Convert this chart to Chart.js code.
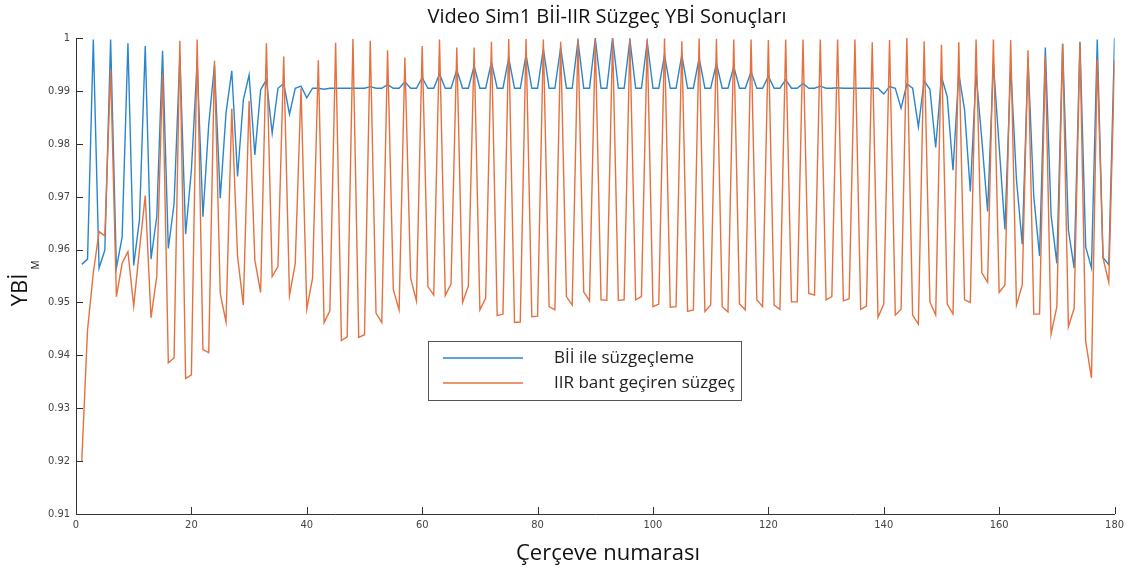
<!DOCTYPE html>
<html><head><meta charset="utf-8">
<script src="https://cdn.jsdelivr.net/npm/chart.js@4"></script>
<style>html,body{margin:0;padding:0;background:#fff}#wrap{width:1129px;height:574px;position:relative}</style>
</head><body><div id="wrap"><canvas id="c" width="1129" height="574"></canvas></div>
<script>
const titleText = "Video Sim1 Bİİ-IIR Süzgeç YBİ Sonuçları";
const xLabel = "Çerçeve numarası";
const yLabel = "YBİ";
const ySub = "M";
const seriesNames = ["Bİİ ile süzgeçleme", "IIR bant geçiren süzgeç"];
const xTicks = [0,20,40,60,80,100,120,140,160,180];
const yTicks = [0.91,0.92,0.93,0.94,0.95,0.96,0.97,0.98,0.99,1];
const frames = Array.from({length:180},(_,i)=>i+1);
const bii = [
0.9572,0.9582,0.9997,0.9565,0.9599,0.9997,0.9565,0.9624,0.9990,0.9570,
0.9656,0.9985,0.9582,0.9662,0.9976,0.9602,0.9687,0.9968,0.9629,0.9750,
0.9955,0.9662,0.9836,0.9949,0.9697,0.9858,0.9938,0.9738,0.9883,0.9930,
0.9779,0.9902,0.9921,0.9820,0.9905,0.9914,0.9856,0.9905,0.9909,0.9887,
0.9905,0.9905,0.9903,0.9905,0.9905,0.9905,0.9905,0.9905,0.9905,0.9905,
0.9908,0.9905,0.9905,0.9912,0.9905,0.9905,0.9917,0.9905,0.9905,0.9925,
0.9905,0.9905,0.9932,0.9905,0.9905,0.9940,0.9905,0.9905,0.9947,0.9905,
0.9905,0.9954,0.9905,0.9905,0.9962,0.9905,0.9905,0.9968,0.9905,0.9905,
0.9980,0.9905,0.9905,0.9982,0.9905,0.9905,0.9995,0.9905,0.9905,0.9999,
0.9905,0.9905,1.0000,0.9905,0.9905,0.9997,0.9905,0.9905,0.9993,0.9905,
0.9905,0.9968,0.9905,0.9905,0.9968,0.9905,0.9905,0.9962,0.9905,0.9905,
0.9952,0.9905,0.9905,0.9946,0.9905,0.9905,0.9936,0.9905,0.9905,0.9928,
0.9905,0.9905,0.9921,0.9905,0.9905,0.9914,0.9905,0.9905,0.9909,0.9905,
0.9905,0.9906,0.9905,0.9905,0.9905,0.9905,0.9905,0.9905,0.9905,0.9894,
0.9908,0.9905,0.9867,0.9913,0.9905,0.9832,0.9919,0.9903,0.9793,0.9927,
0.9889,0.9750,0.9933,0.9864,0.9710,0.9933,0.9807,0.9672,0.9952,0.9795,
0.9638,0.9945,0.9732,0.9610,0.9960,0.9700,0.9588,0.9982,0.9665,0.9574,
0.9989,0.9637,0.9565,0.9993,0.9605,0.9565,0.9997,0.9585,0.9571,1.0000];
const iir = [
0.9200,0.9448,0.9556,0.9634,0.9626,0.9940,0.9511,0.9574,0.9596,0.9493,
0.9600,0.9702,0.9471,0.9549,0.9933,0.9386,0.9395,0.9995,0.9356,0.9363,
0.9997,0.9411,0.9405,0.9957,0.9517,0.9463,0.9866,0.9587,0.9495,0.9881,
0.9580,0.9519,0.9990,0.9549,0.9568,0.9965,0.9513,0.9574,0.9905,0.9488,
0.9546,0.9958,0.9462,0.9484,0.9991,0.9428,0.9435,0.9998,0.9434,0.9439,
0.9995,0.9480,0.9462,0.9977,0.9524,0.9486,0.9963,0.9546,0.9503,0.9985,
0.9530,0.9514,0.9997,0.9513,0.9535,0.9982,0.9500,0.9531,0.9982,0.9486,
0.9508,0.9993,0.9475,0.9478,0.9998,0.9462,0.9463,0.9998,0.9473,0.9474,
0.9997,0.9492,0.9486,0.9993,0.9511,0.9495,0.9997,0.9520,0.9503,0.9997,
0.9505,0.9504,0.9999,0.9504,0.9505,0.9997,0.9505,0.9511,0.9997,0.9492,
0.9497,0.9999,0.9491,0.9492,0.9994,0.9483,0.9486,0.9999,0.9483,0.9495,
0.9998,0.9492,0.9482,0.9997,0.9497,0.9486,0.9997,0.9505,0.9492,0.9996,
0.9495,0.9487,0.9997,0.9501,0.9501,0.9997,0.9517,0.9514,0.9997,0.9505,
0.9511,0.9997,0.9503,0.9507,0.9997,0.9487,0.9493,0.9992,0.9472,0.9497,
0.9996,0.9476,0.9487,1.0000,0.9476,0.9459,0.9994,0.9501,0.9476,0.9987,
0.9497,0.9478,0.9992,0.9505,0.9500,0.9997,0.9556,0.9538,0.9997,0.9519,
0.9533,0.9996,0.9495,0.9533,0.9977,0.9478,0.9478,0.9965,0.9440,0.9492,
0.9989,0.9454,0.9489,0.9991,0.9426,0.9357,0.9960,0.9584,0.9538,0.9958];
const colors = ["#2a86cc", "#e4713f"];

const deco = {
  id:'deco',
  afterDraw(chart){
    const ctx = chart.ctx, xs = chart.scales.x, ys = chart.scales.y, a = chart.chartArea;
    ctx.save();
    ctx.strokeStyle = '#333'; ctx.lineWidth = 1;
    ctx.beginPath();
    xTicks.forEach(v=>{const p=Math.round(xs.getPixelForValue(v))+0.5; ctx.moveTo(p,a.bottom); ctx.lineTo(p,a.bottom-7);});
    yTicks.forEach(v=>{const p=Math.round(ys.getPixelForValue(v))+0.5; ctx.moveTo(a.left,p); ctx.lineTo(a.left+7,p);});
    ctx.stroke();
    ctx.fillStyle = '#111';
    ctx.font = '20px "Open Sans", sans-serif';
    ctx.textAlign = 'center'; ctx.textBaseline = 'middle';
    ctx.fillText(titleText, 607, 17);
    ctx.font = '22px "Open Sans", sans-serif';
    ctx.fillText(xLabel, 608, 554);
    ctx.save();
    ctx.translate(21, 290); ctx.rotate(-Math.PI/2);
    ctx.font = '22px "Open Sans", sans-serif';
    ctx.textAlign = 'center';
    ctx.fillText(yLabel, 0, 0);
    ctx.font = '10px "Open Sans", sans-serif';
    ctx.fillText(ySub, 25, 15);
    ctx.restore();
    ctx.fillStyle = '#fff';
    ctx.fillRect(428.5, 341.5, 313, 59);
    ctx.strokeStyle = '#555'; ctx.lineWidth = 1;
    ctx.strokeRect(428.5, 341.5, 313, 59);
    const rows = [358, 383];
    chart.data.datasets.forEach((d,i)=>{
      ctx.strokeStyle = d.borderColor; ctx.lineWidth = 1.5;
      ctx.beginPath(); ctx.moveTo(443, rows[i]); ctx.lineTo(523, rows[i]); ctx.stroke();
      ctx.fillStyle = '#222'; ctx.textAlign = 'left';
      ctx.font = '17px "Open Sans", sans-serif';
      ctx.fillText(d.label, 554, rows[i]);
    });
    ctx.restore();
  }
};

new Chart(document.getElementById('c'), {
  type:'line',
  data:{
    labels: frames,
    datasets: seriesNames.map((n,i)=>({
      label:n,
      order: i===0 ? 1 : 0,
      data: (i===0?bii:iir).map((v,k)=>({x:frames[k], y:v})),
      borderColor: colors[i], borderWidth: 1.4, pointRadius:0, tension:0, fill:false
    }))
  },
  options:{
    responsive:false, animation:false,
    layout:{padding:{left:0,right:11,top:38,bottom:0}},
    plugins:{legend:{display:false}, title:{display:false}, tooltip:{enabled:false}},
    scales:{
      x:{type:'linear', min:0, max:180,
        afterBuildTicks(s){ s.ticks = xTicks.map(v=>({value:v})); },
        afterFit(s){ s.height = 60; },
        grid:{display:false, drawTicks:false},
        border:{display:true, color:'#333', width:1},
        ticks:{padding:5, color:'#444', font:{family:'"Liberation Sans Narrow","DejaVu Sans Condensed",sans-serif', size:11}, maxRotation:0}
      },
      y:{type:'linear', min:0.91, max:1,
        afterBuildTicks(s){ s.ticks = yTicks.map(v=>({value:v})); },
        afterFit(s){ s.width = 76; },
        grid:{display:false, drawTicks:false},
        border:{display:true, color:'#333', width:1},
        ticks:{padding:6, color:'#444', font:{family:'"Liberation Sans Narrow","DejaVu Sans Condensed",sans-serif', size:11},
          callback:(v)=> v===1 ? '1' : Number(v).toFixed(2)}
      }
    }
  },
  plugins:[deco]
});
</script></body></html>
